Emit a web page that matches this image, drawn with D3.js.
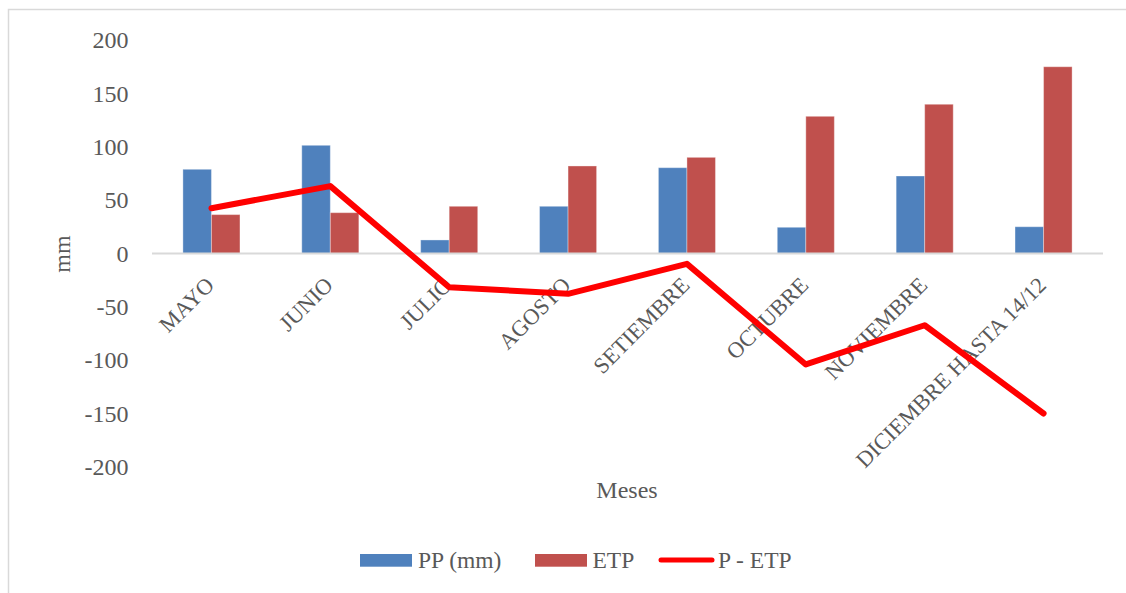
<!DOCTYPE html>
<html>
<head>
<meta charset="utf-8">
<script src="https://cdn.jsdelivr.net/npm/d3@7"></script>
<style>
  html, body { margin: 0; padding: 0; background: #fff; }
  svg { display: block; }
  text { font-family: "Liberation Serif", "DejaVu Serif", serif; fill: #595959; }
</style>
</head>
<body>
<svg id="chart" width="1126" height="593"></svg>
<script>
// Monthly precipitation (PP), potential evapotranspiration (ETP) and balance, mm
const months = ["MAYO", "JUNIO", "JULIO", "AGOSTO", "SETIEMBRE", "OCTUBRE", "NOVIEMBRE", "DICIEMBRE HASTA 14/12"];
const pp = [79, 101.5, 12.7, 44.3, 80.5, 24.6, 72.7, 25.1];
const etp = [36.5, 38.3, 44.3, 82.1, 90.2, 128.7, 140, 175.2];
const balance = [42.5, 63.2, -31.6, -37.8, -9.7, -104.1, -67.3, -150.1];
const yTicks = [-200, -150, -100, -50, 0, 50, 100, 150, 200];
const seriesNames = ["PP (mm)", "ETP", "P - ETP"];
const colors = { pp: "#4F81BD", etp: "#C0504D", line: "#FF0000" };

const svg = d3.select("#chart");

// outer chart frame
svg.append("rect")
  .attr("x", 8.5).attr("y", 9.5)
  .attr("width", 1130).attr("height", 600)
  .attr("fill", "#fff").attr("stroke", "#D9D9D9").attr("stroke-width", 1.5);

const plot = { left: 152, right: 1103, top: 40.3, bottom: 466.7 };

const x = d3.scaleBand().domain(months).range([plot.left, plot.right]).padding(0);
const groupW = x.step() * 0.48;
const xs = d3.scaleBand().domain(["pp", "etp"]).range([-groupW / 2, groupW / 2]).padding(0);
const y = d3.scaleLinear().domain([-200, 200]).range([plot.bottom, plot.top]);
const cx = m => x(m) + x.bandwidth() / 2;

// y axis labels (plain hyphen for negatives)
const yAxis = d3.axisLeft(y).tickValues(yTicks).tickSize(0).tickPadding(23.5).tickFormat(d => String(d));
const gy = svg.append("g").attr("transform", `translate(${plot.left},0)`).call(yAxis);
gy.select(".domain").remove();
gy.selectAll("text")
  .style("font-family", '"Liberation Serif", serif')
  .style("font-size", "24px")
  .attr("fill", "#595959");

// bars
const rows = months.map((m, i) => ({ m, pp: pp[i], etp: etp[i], bal: balance[i] }));
["pp", "etp"].forEach(key => {
  svg.append("g").selectAll("rect")
    .data(rows)
    .join("rect")
    .attr("x", d => cx(d.m) + xs(key))
    .attr("width", xs.bandwidth())
    .attr("y", d => y(Math.max(0, d[key])))
    .attr("height", d => Math.abs(y(d[key]) - y(0)))
    .attr("fill", colors[key])
    .attr("stroke", "rgba(255,255,255,0.35)")
    .attr("stroke-width", 1);
});

// zero axis line
svg.append("line")
  .attr("x1", plot.left).attr("x2", plot.right)
  .attr("y1", y(0)).attr("y2", y(0))
  .attr("stroke", "#D9D9D9").attr("stroke-width", 2);

// category labels, rotated, ending just right of each category centre
svg.append("g").selectAll("text")
  .data(months)
  .join("text")
  .attr("transform", d => `translate(${cx(d) + 4},${y(0) + 33}) rotate(-45)`)
  .attr("text-anchor", "end")
  .style("font-size", "22.5px")
  .text(d => d);

// balance line
const line = d3.line().x(d => cx(d.m)).y(d => y(d.bal));
svg.append("path")
  .datum(rows)
  .attr("d", line)
  .attr("fill", "none")
  .attr("stroke", colors.line)
  .attr("stroke-width", 6)
  .attr("stroke-linecap", "round")
  .attr("stroke-linejoin", "round");

// axis titles
svg.append("text")
  .attr("transform", `translate(62,254) rotate(-90)`)
  .attr("text-anchor", "middle")
  .attr("dy", "0.35em")
  .style("font-size", "24px")
  .text("mm");

svg.append("text")
  .attr("x", 627).attr("y", 490)
  .attr("text-anchor", "middle")
  .attr("dy", "0.35em")
  .style("font-size", "24px")
  .text("Meses");

// legend
const leg = svg.append("g");
leg.append("rect").attr("x", 360).attr("y", 554).attr("width", 52).attr("height", 12.7).attr("fill", colors.pp);
leg.append("text").attr("x", 418).attr("y", 567.5).style("font-size", "23.5px").text(seriesNames[0]);
leg.append("rect").attr("x", 535).attr("y", 554).attr("width", 52).attr("height", 12.7).attr("fill", colors.etp);
leg.append("text").attr("x", 592.5).attr("y", 567.5).style("font-size", "23.5px").text(seriesNames[1]);
leg.append("line").attr("x1", 661).attr("x2", 712).attr("y1", 560).attr("y2", 560)
  .attr("stroke", colors.line).attr("stroke-width", 5).attr("stroke-linecap", "round");
leg.append("text").attr("x", 718).attr("y", 567.5).style("font-size", "23.5px").text(seriesNames[2]);
</script>
</body>
</html>
